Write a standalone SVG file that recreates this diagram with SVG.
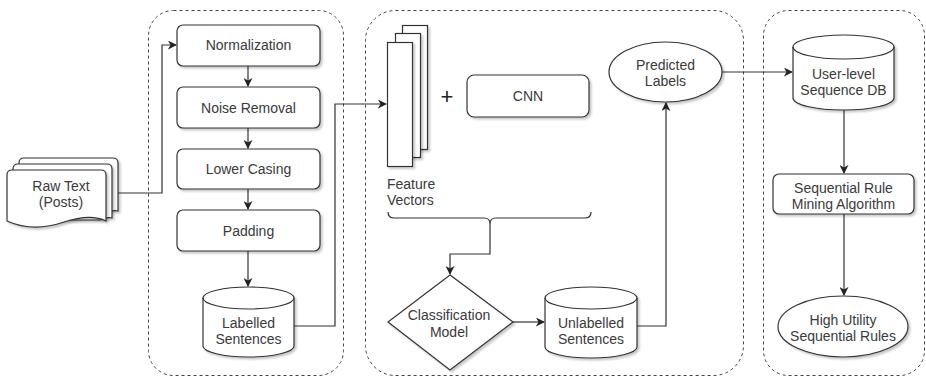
<svg xmlns="http://www.w3.org/2000/svg" width="926" height="376" viewBox="0 0 926 376">
<defs>
<filter id="sh" x="-10%" y="-10%" width="130%" height="130%">
<feDropShadow dx="2" dy="2" stdDeviation="1" flood-color="#000" flood-opacity="0.22"/>
</filter>
<marker id="arr" viewBox="0 0 10 10" refX="9" refY="5" markerWidth="9" markerHeight="9" markerUnits="userSpaceOnUse" orient="auto">
<path d="M0,0 L10,5 L0,10 L3,5 Z" fill="#222"/>
</marker>
</defs>
<style>
.box{fill:#fff;stroke:#333;stroke-width:1.2}
.ctr{fill:none;stroke:#444;stroke-width:1;stroke-dasharray:3,3}
.ln{fill:none;stroke:#333;stroke-width:1.2}
.t{font-family:"Liberation Sans",Arial,sans-serif;font-size:14px;fill:#3a3a3a;text-anchor:middle}
.tl{font-family:"Liberation Sans",Arial,sans-serif;font-size:14px;fill:#3a3a3a}
</style>
<g id="containers">
<rect class="ctr" x="148.5" y="10.5" width="195" height="365" rx="25"/>
<rect class="ctr" x="365.5" y="10.5" width="378" height="365" rx="30"/>
<rect class="ctr" x="763.5" y="10.5" width="161" height="365" rx="25"/>
</g>
<g id="connectors">
<path class="ln" d="M118,193 H162 V45 H176" marker-end="url(#arr)"/>
<path class="ln" d="M248,66 V86" marker-end="url(#arr)"/>
<path class="ln" d="M248,128 V148" marker-end="url(#arr)"/>
<path class="ln" d="M248,189 V209" marker-end="url(#arr)"/>
<path class="ln" d="M248,251 V286" marker-end="url(#arr)"/>
<path class="ln" d="M294,326 H335 V104 H386" marker-end="url(#arr)"/>
<path class="ln" d="M388,212 Q388,218 394,218 H484 Q490,218 490,224 Q490,218 496,218 H585 Q591,218 591,212"/>
<path class="ln" d="M490,224 V254 H450 V274" marker-end="url(#arr)"/>
<path class="ln" d="M513,322 H544" marker-end="url(#arr)"/>
<path class="ln" d="M637,326 H666 V103" marker-end="url(#arr)"/>
<path class="ln" d="M722,72 H792" marker-end="url(#arr)"/>
<path class="ln" d="M844,110 V173" marker-end="url(#arr)"/>
<path class="ln" d="M844,214 V295" marker-end="url(#arr)"/>
</g>
<g id="raw-text">
<path class="box" filter="url(#sh)" d="M19,163 Q19,158 24,158 H113 Q118,158 118,163 V211 C114,210 110,211 106,213 L19,213 Z"/>
<path class="box" filter="url(#sh)" d="M13,169 Q13,164 18,164 H107 Q112,164 112,169 V218 C108,217 104,218 100,220 L13,220 Z"/>
<path class="box" filter="url(#sh)" d="M7,175 Q7,170 12,170 H101 Q106,170 106,175 V221 C96,216 82,216 64,222 C44,229 25,229 7,221 Z"/>
<text class="t" x="61" y="191">Raw Text</text>
<text class="t" x="61" y="207">(Posts)</text>
</g>
<g id="normalization">
<rect class="box" filter="url(#sh)" x="177" y="25" width="143" height="41" rx="6"/>
<text class="t" x="248.5" y="50">Normalization</text>
</g>
<g id="noise-removal">
<rect class="box" filter="url(#sh)" x="177" y="87" width="143" height="41" rx="6"/>
<text class="t" x="248.5" y="112.5">Noise Removal</text>
</g>
<g id="lower-casing">
<rect class="box" filter="url(#sh)" x="177" y="149" width="143" height="40" rx="6"/>
<text class="t" x="248.5" y="174">Lower Casing</text>
</g>
<g id="padding">
<rect class="box" filter="url(#sh)" x="177" y="210" width="143" height="41" rx="6"/>
<text class="t" x="248.5" y="235.5">Padding</text>
</g>
<g id="labelled-sentences">
<path class="box" filter="url(#sh)" d="M203,298 A45.5,11 0 0 1 294,298 V346 A45.5,11 0 0 1 203,346 Z"/>
<path class="ln" d="M203,298 A45.5,11 0 0 0 294,298"/>
<text class="t" x="248.5" y="328">Labelled</text>
<text class="t" x="248.5" y="344">Sentences</text>
</g>
<g id="feature-vectors">
<rect class="box" filter="url(#sh)" x="402.5" y="25.5" width="25" height="124"/>
<rect class="box" filter="url(#sh)" x="395.5" y="33.5" width="25" height="124"/>
<rect class="box" filter="url(#sh)" x="387.5" y="42.5" width="25" height="124"/>
<text class="tl" x="387" y="189">Feature</text>
<text class="tl" x="387" y="205">Vectors</text>
</g>
<g id="plus">
<text x="447" y="104" font-family="Liberation Sans, Arial, sans-serif" font-size="22" fill="#222" text-anchor="middle">+</text>
</g>
<g id="cnn">
<rect class="box" filter="url(#sh)" x="467" y="75" width="122" height="42" rx="7"/>
<text class="t" x="528" y="101">CNN</text>
</g>
<g id="classification-model">
<path class="box" filter="url(#sh)" d="M450,275 L513,322 L450,370 L388,322 Z"/>
<text class="t" x="449" y="320">Classification</text>
<text class="t" x="449" y="337">Model</text>
</g>
<g id="unlabelled-sentences">
<path class="box" filter="url(#sh)" d="M545,298 A46,11 0 0 1 637,298 V347 A46,11 0 0 1 545,347 Z"/>
<path class="ln" d="M545,298 A46,11 0 0 0 637,298"/>
<text class="t" x="591" y="328">Unlabelled</text>
<text class="t" x="591" y="344">Sentences</text>
</g>
<g id="predicted-labels">
<ellipse class="box" filter="url(#sh)" cx="665.5" cy="72" rx="56.5" ry="30"/>
<text class="t" x="665.5" y="70">Predicted</text>
<text class="t" x="665.5" y="86">Labels</text>
</g>
<g id="user-level-db">
<path class="box" filter="url(#sh)" d="M793,47 A50.5,12 0 0 1 894,47 V98 A50.5,12 0 0 1 793,98 Z"/>
<path class="ln" d="M793,47 A50.5,12 0 0 0 894,47"/>
<text class="t" x="843.5" y="79">User-level</text>
<text class="t" x="843.5" y="95">Sequence DB</text>
</g>
<g id="sequential-rule-mining">
<rect class="box" filter="url(#sh)" x="773" y="174" width="141" height="40" rx="6"/>
<text class="t" x="843.5" y="193">Sequential Rule</text>
<text class="t" x="843.5" y="209">Mining Algorithm</text>
</g>
<g id="high-utility-rules">
<ellipse class="box" filter="url(#sh)" cx="843" cy="326.5" rx="65" ry="30.5"/>
<text class="t" x="843" y="325">High Utility</text>
<text class="t" x="843" y="341">Sequential Rules</text>
</g>
</svg>
